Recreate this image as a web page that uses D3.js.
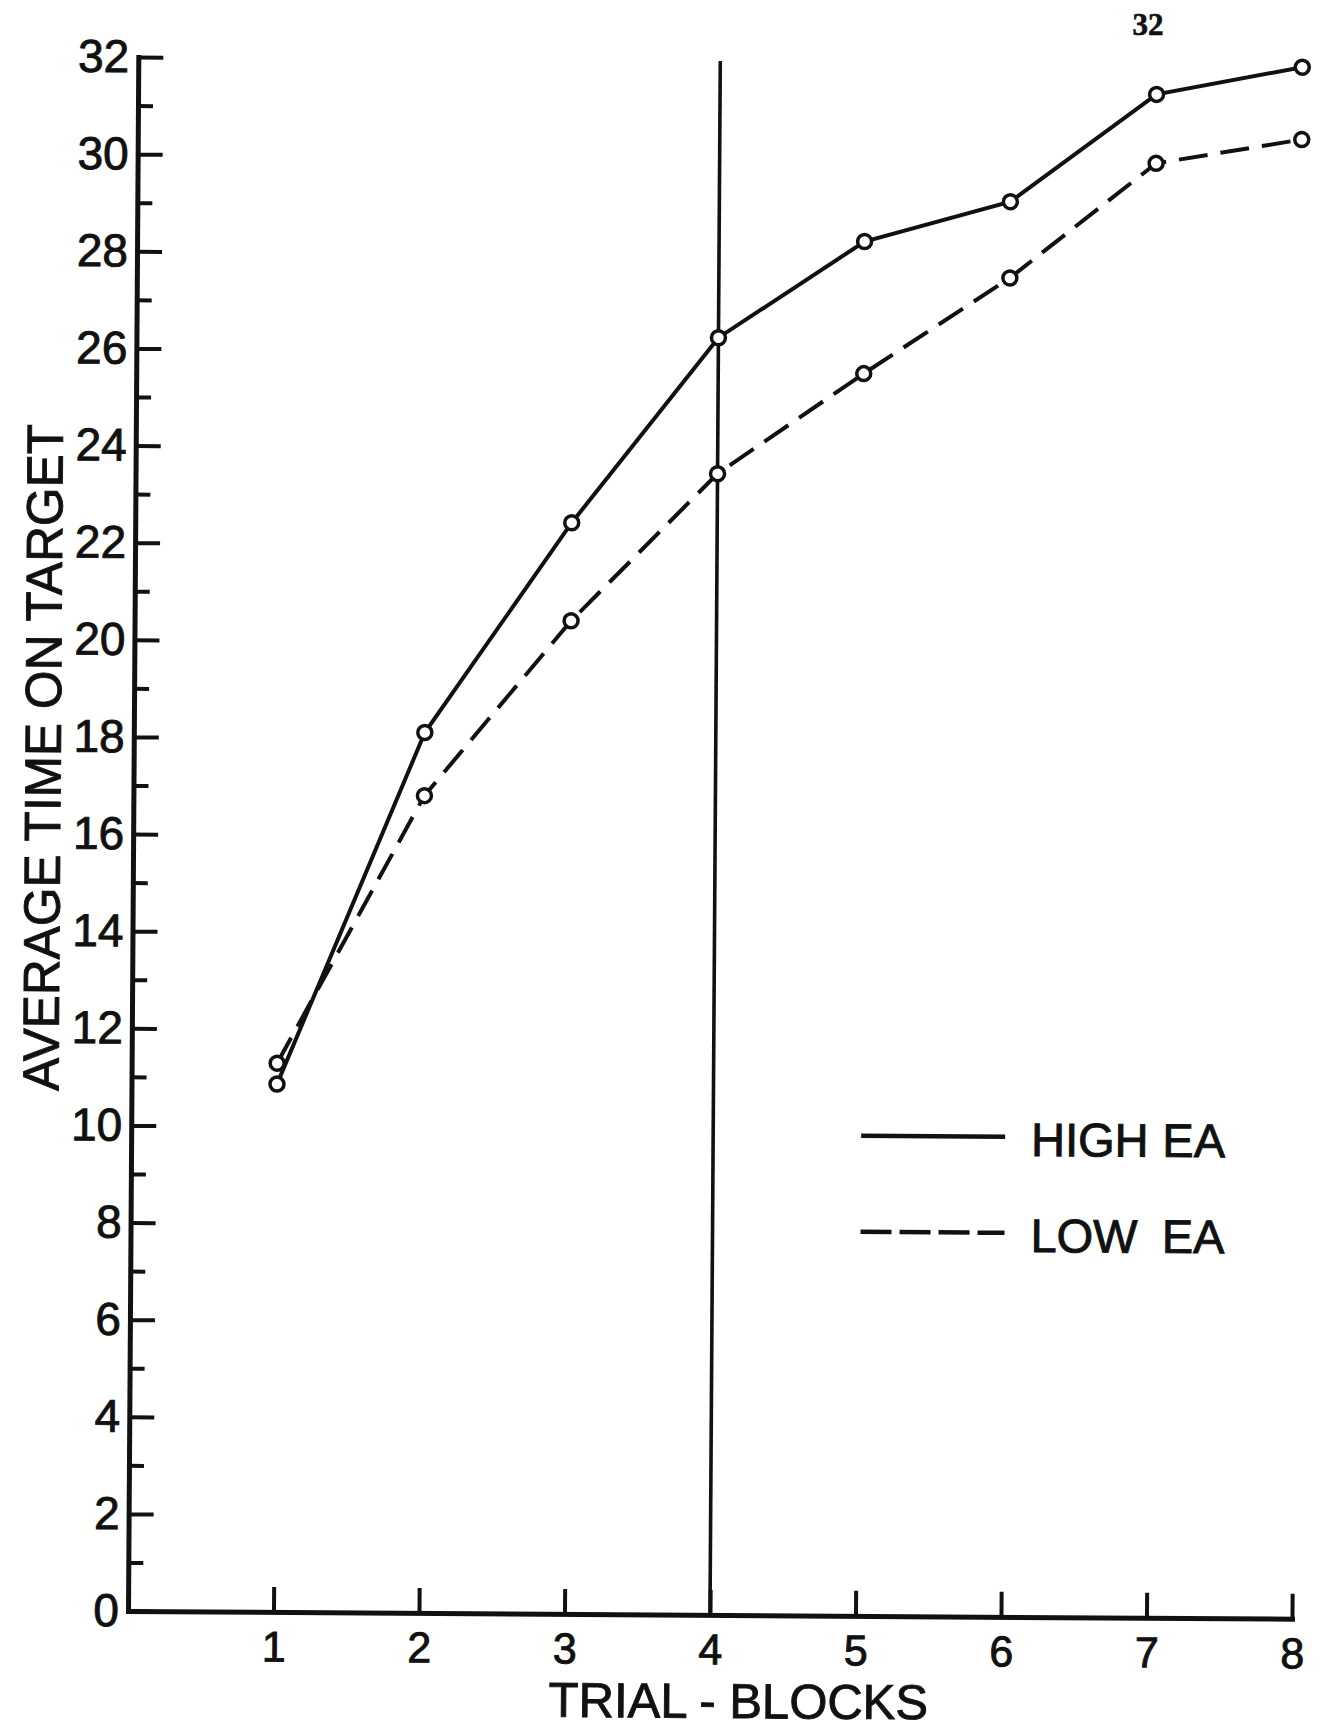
<!DOCTYPE html>
<html>
<head>
<meta charset="utf-8">
<script src="https://cdn.jsdelivr.net/npm/d3@7"></script>
<style>
  html, body { margin: 0; padding: 0; background: #fff; }
  svg { display: block; }
  text { font-family: "Liberation Sans", Arial, sans-serif; fill: #111; stroke: #111; stroke-width: 0.9px; }
</style>
</head>
<body>
<div id="chart"></div>
<script>
// values
const trialBlocks = [1, 2, 3, 4, 5, 6, 7, 8];
const highEA = [10.87, 18.13, 22.47, 26.3, 28.3, 29.14, 31.37, 31.95];
const lowEA = [11.3, 16.83, 20.45, 23.5, 25.58, 27.57, 29.95, 30.46];
const seriesNames = ['HIGH EA', 'LOW EA'];
const yMajorTicks = [0, 2, 4, 6, 8, 10, 12, 14, 16, 18, 20, 22, 24, 26, 28, 30, 32];
const yMinorTicks = [1, 3, 5, 7, 9, 11, 13, 15, 17, 19, 21, 23, 25, 27, 29, 31];
const xTicks = [1, 2, 3, 4, 5, 6, 7, 8];
const dividerBlock = 4;
const pageNumber = '32';

const width = 1321, height = 1729;
const x0 = 128, y0 = 1611;

const svg = d3.select('#chart').append('svg')
    .attr('width', width)
    .attr('height', height);

svg.append('rect').attr('width', width).attr('height', height).attr('fill', '#fff');

// page number, not part of the tilted scan
svg.append('text')
    .attr('x', 1148)
    .attr('y', 35)
    .attr('text-anchor', 'middle')
    .style('font-family', '"Liberation Serif", serif')
    .style('font-weight', 'bold')
    .style('stroke-width', '0.6px')
    .style('font-size', '31px')
    .text(pageNumber);

// the scanned plot is a little rotated
const g = svg.append('g').attr('transform', `rotate(0.38, ${x0}, ${y0})`);

const x = d3.scaleLinear().domain([0, 8]).range([x0, 1292]);
const y = d3.scaleLinear().domain([0, 32]).range([y0, 57]);

// y axis: ticks point inward, labels outside
const yAxis = g.append('g')
    .attr('transform', `translate(${x0},0)`)
    .call(d3.axisLeft(y).tickValues(yMajorTicks).tickSize(-25).tickSizeOuter(0).tickPadding(9));
g.append('g')
    .attr('transform', `translate(${x0},0)`)
    .call(d3.axisLeft(y).tickValues(yMinorTicks).tickSize(-15).tickSizeOuter(0).tickFormat(''))
    .select('.domain').remove();

const xAxis = g.append('g')
    .attr('transform', `translate(0,${y0})`)
    .call(d3.axisBottom(x).tickValues(xTicks).tickSize(-25).tickSizeOuter(0).tickPadding(19));

g.selectAll('.domain')
    .attr('stroke', '#111')
    .attr('stroke-width', 5)
    .attr('stroke-linecap', 'square');
g.selectAll('.tick line')
    .attr('stroke', '#111')
    .attr('stroke-width', 4);
yAxis.selectAll('.tick text')
    .attr('fill', '#111')
    .style('font-family', '"Liberation Sans", sans-serif')
    .style('font-size', '46px');
xAxis.selectAll('.tick text')
    .attr('fill', '#111')
    .style('font-family', '"Liberation Sans", sans-serif')
    .style('font-size', '43px');

// vertical divider at block 4
g.append('line')
    .attr('x1', x(dividerBlock)).attr('x2', x(dividerBlock))
    .attr('y1', y(0)).attr('y2', y(32))
    .attr('stroke', '#111')
    .attr('stroke-width', 3.6);

const series = [
    { name: seriesNames[0], values: highEA, dash: null },
    { name: seriesNames[1], values: lowEA, dash: '29,13' }
];

const line = d3.line()
    .x(d => x(d.block))
    .y(d => y(d.value));

series.forEach(s => {
    const pts = trialBlocks.map((b, i) => ({ block: b, value: s.values[i] }));
    g.append('path')
        .datum(pts)
        .attr('d', line)
        .attr('fill', 'none')
        .attr('stroke', '#111')
        .attr('stroke-width', 4)
        .attr('stroke-dasharray', s.dash);
    g.append('g').selectAll('circle')
        .data(pts)
        .enter().append('circle')
        .attr('cx', d => x(d.block))
        .attr('cy', d => y(d.value))
        .attr('r', 7)
        .attr('fill', '#fff')
        .attr('stroke', '#111')
        .attr('stroke-width', 3.5);
});

// legend
const legendRows = [1131, 1227];
series.forEach((s, i) => {
    const ly = legendRows[i];
    g.append('line')
        .attr('x1', 858).attr('x2', 1002)
        .attr('y1', ly).attr('y2', ly)
        .attr('stroke', '#111')
        .attr('stroke-width', 4.5)
        .attr('stroke-dasharray', s.dash ? '31,8' : null);
    const words = s.name.split(' ');
    g.append('text')
        .attr('x', 1028).attr('y', ly + 19)
        .style('font-size', '47px')
        .text(words[0]);
    g.append('text')
        .attr('x', 1222).attr('y', ly + 19)
        .attr('text-anchor', 'end')
        .style('font-size', '47px')
        .text(words[1]);
});

// axis titles
g.append('text')
    .attr('transform', 'translate(55,758) rotate(-90)')
    .attr('text-anchor', 'middle')
    .attr('textLength', 667)
    .attr('lengthAdjust', 'spacingAndGlyphs')
    .style('font-size', '51px')
    .text('AVERAGE TIME ON TARGET');

g.append('text')
    .attr('x', 739)
    .attr('y', 1714)
    .attr('text-anchor', 'middle')
    .style('font-size', '49px')
    .text('TRIAL - BLOCKS');
</script>
</body>
</html>
